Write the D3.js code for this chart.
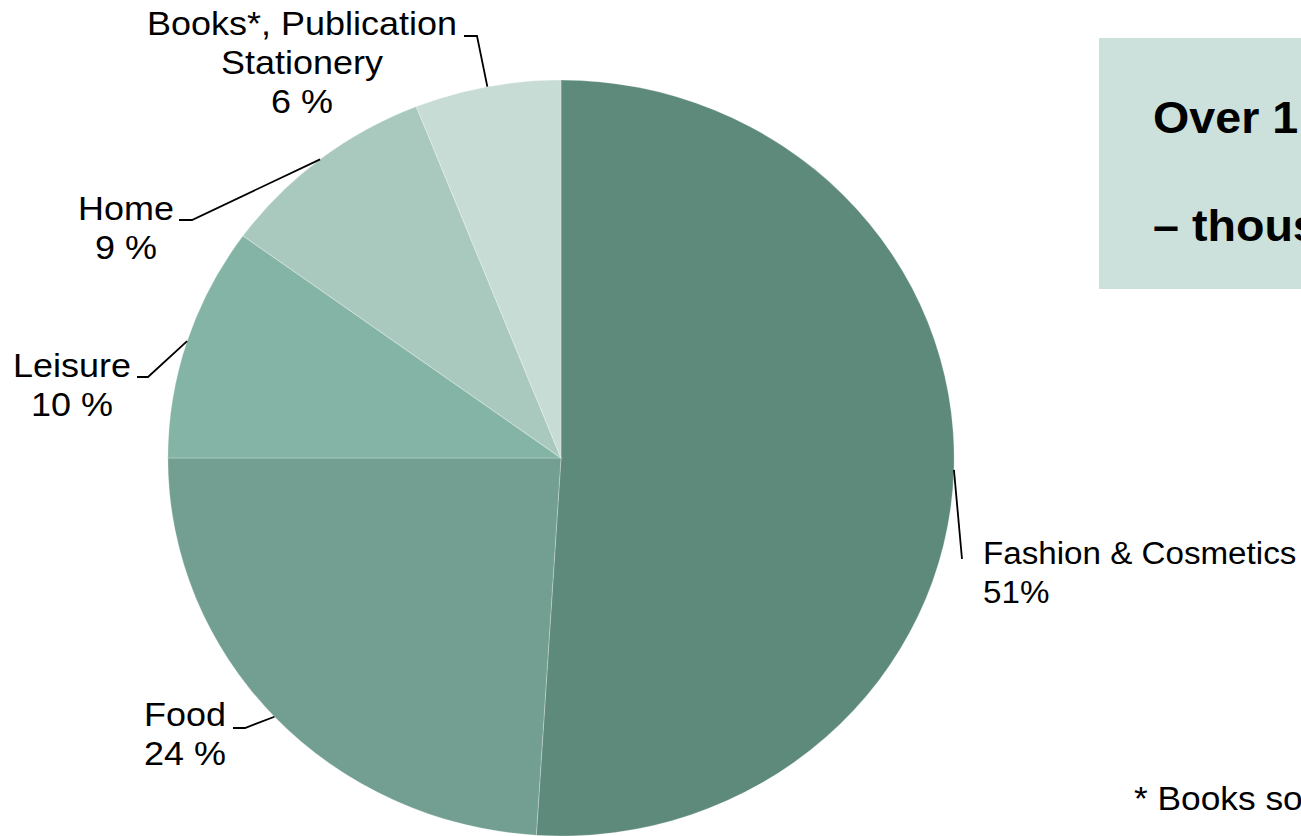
<!DOCTYPE html>
<html>
<head>
<meta charset="utf-8">
<script src="https://cdn.jsdelivr.net/npm/d3@7"></script>
<style>
  html, body { margin: 0; padding: 0; background: #fff; overflow: hidden; }
  svg { display: block; }
  text { font-family: "Liberation Sans", Arial, sans-serif; fill: #000; }
</style>
</head>
<body>
<svg id="chart" width="1301" height="836"></svg>
<script>
// Share of online sales by category (%)
const categories = ["Fashion & Cosmetics", "Food", "Leisure", "Home", "Books*, Publication\nStationery"];
const shares = [51, 24, 10, 9, 6];
const shareLabels = ["51%", "24 %", "10 %", "9 %", "6 %"];
const colors = ["#5e8a7b", "#729f91", "#83b4a5", "#aac9be", "#c8dcd6"];

// Side panel text
const panelLines = ["Over 1 million online shoppers", "\u2013 thousands of online retailers"];
const footnote = "* Books sold online";

const W = 1301, H = 836;
const cx = 561, cy = 458, R = 378, stretch = 1.04;
const textStretch = 1.09;

const svg = d3.select("#chart");

const pie = d3.pie().sort(null).value(d => d.v);
const arcs = pie(shares.map((v, i) => ({ v, i })));
const arc = d3.arc().innerRadius(0).outerRadius(R);

const gPie = svg.append("g")
  .attr("transform", `translate(${cx},${cy}) scale(${stretch},1)`);

gPie.selectAll("path.slice")
  .data(arcs)
  .join("path")
  .attr("class", "slice")
  .attr("d", arc)
  .attr("fill", d => colors[d.data.i])
  .attr("stroke", "#ffffff")
  .attr("stroke-opacity", 0.25)
  .attr("stroke-width", 1);

// point on the rim at a slice's mid angle, in page coordinates
function rimPoint(d) {
  const a = (d.startAngle + d.endAngle) / 2;
  return [cx + Math.sin(a) * R * stretch, cy - Math.cos(a) * R];
}

// label placement: anchor, text position, leader elbow and end
const layout = [
  { anchor: "start",  x: 983, y: 564, size: 31, k: 1.07, elbow: null,       end: [962, 559] },
  { anchor: "middle", x: 185, y: 726, size: 33, k: textStretch, elbow: [245, 728], end: [233, 728] },
  { anchor: "middle", x: 72,  y: 377, size: 33, k: textStretch, elbow: [148, 377], end: [137, 377] },
  { anchor: "middle", x: 126, y: 220, size: 33, k: textStretch, elbow: [192, 220], end: [179, 220] },
  { anchor: "middle", x: 302, y: 35,  size: 33, k: textStretch, elbow: [477, 36],  end: [464, 36] }
];
const lineH = 39;

arcs.forEach((d, idx) => {
  const L = layout[idx];
  const pts = [rimPoint(d)];
  if (L.elbow) pts.push(L.elbow);
  pts.push(L.end);
  svg.append("path")
    .attr("d", d3.line()(pts))
    .attr("fill", "none")
    .attr("stroke", "#000")
    .attr("stroke-width", 1.8);

  const lines = categories[d.data.i].split("\n").concat([shareLabels[d.data.i]]);
  const t = svg.append("text")
    .attr("transform", `translate(${L.x},${L.y}) scale(${L.k},1)`)
    .attr("text-anchor", L.anchor)
    .style("font-size", L.size + "px");
  lines.forEach((s, j) => {
    t.append("tspan").attr("x", 0).attr("y", j * lineH).text(s);
  });
});

// side panel
svg.append("rect")
  .attr("x", 1099).attr("y", 38)
  .attr("width", 420).attr("height", 251)
  .attr("fill", "#cce1db");

panelLines.forEach((s, j) => {
  svg.append("text")
    .attr("transform", `translate(1153,${j === 0 ? 133 : 241}) scale(1.06,1)`)
    .style("font-size", "44px")
    .style("font-weight", "bold")
    .text(s);
});

svg.append("text")
  .attr("transform", "translate(1134,810) scale(1.07,1)")
  .style("font-size", "33px")
  .text(footnote);
</script>
</body>
</html>
